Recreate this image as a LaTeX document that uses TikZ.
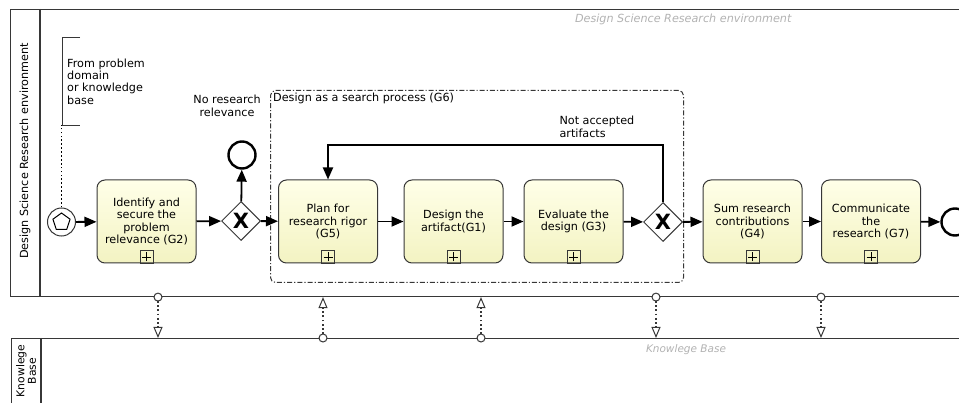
\documentclass[tikz,border=0pt]{standalone}
\usepackage{fontspec}
\setmainfont{DejaVu Sans}
\usetikzlibrary{shapes.geometric, arrows.meta, positioning}
\usepackage{xcolor}
\definecolor{taskhi}{RGB}{255, 255, 232}
\definecolor{tasklo}{RGB}{243, 243, 194}
\definecolor{lineg}{RGB}{55, 55, 55}
\definecolor{poolnote}{RGB}{178, 178, 178}

\begin{document}
\begin{tikzpicture}[
    x=1pt, y=-1pt,
    pool/.style={rectangle, draw=lineg, line width=1.1pt, anchor=north west, inner sep=0pt},
    task/.style={rectangle, draw=lineg, rounded corners=8pt, top color=taskhi, bottom color=tasklo, minimum width=99pt, minimum height=83pt, align=center, font=\fontsize{11.2}{12.4}\selectfont, line width=1pt, inner sep=2pt},
    gateway/.style={diamond, draw=lineg, fill=white, minimum width=39pt, minimum height=39pt, inner sep=0pt, line width=1pt, font=\fontsize{21}{21}\selectfont\bfseries},
    endevent/.style={circle, draw=black, line width=2.4pt, minimum size=27pt, inner sep=0pt},
    arrow/.style={-{Triangle[length=12pt, width=10pt]}, line width=1.8pt, color=black},
    msgdown/.style={{Circle[length=9pt, line width=1pt, fill=white]}-{Triangle[open, length=11pt, width=9pt, line width=1pt]}, dash pattern=on 1.8pt off 2.4pt, line width=1.7pt, color=lineg, shorten <=-4.5pt},
    msgup/.style={msgdown},
    txt/.style={font=\fontsize{11.2}{12.4}\selectfont, align=center, color=black},
    faint/.style={font=\fontsize{11.2}{12}\selectfont\itshape, color=poolnote}
]
\useasboundingbox (0,0) rectangle (959,403);

% Pools
\node[pool, minimum width=960pt, minimum height=287pt] (dsr) at (10,9) {};
\draw[lineg, line width=1.1pt] ([xshift=30pt]dsr.north west) -- ([xshift=30pt]dsr.south west);
\node[txt, rotate=90] (dsrlabel) at (25,151) {Design Science Research environment};
\node[faint, anchor=east] (dsrnote) at (795,19) {Design Science Research environment};

\node[pool, minimum width=960pt, minimum height=80pt] (kb) at (11,338) {};
\draw[lineg, line width=1.1pt] ([xshift=30pt]kb.north west) -- ([xshift=30pt]kb.south west);
\node[txt, rotate=90, font=\fontsize{10.8}{11.5}\selectfont] (kblabel) at (26,371) {Knowlege\\Base};
\node[faint, font=\fontsize{10.5}{12}\selectfont\itshape] (kbnote) at (686,350) {Knowlege Base};

% Search process group
\node[draw=lineg, line width=1pt, dash pattern=on 5pt off 2pt on 1.2pt off 2pt, rounded corners=5pt, minimum width=413pt, minimum height=192pt, anchor=north west, inner sep=0pt] (g6) at (270,90) {};
\node[txt, anchor=north west, inner sep=3pt] (g6label) at (g6.north west) {Design as a search process (G6)};

% Start event and annotation
\node[circle, draw=lineg, fill=white, line width=1pt, minimum size=28pt, inner sep=0pt] (start) at (61.5,222) {};
\node[regular polygon, regular polygon sides=5, draw=black, line width=1pt, minimum size=18pt, inner sep=0pt] (startmark) at (start) {};
\node[txt, align=left, anchor=west, minimum height=87pt, inner xsep=5pt] (note) at (62,81.5) {From problem\\domain\\or knowledge\\base};
\draw[lineg, line width=1pt] ([xshift=18pt]note.north west) -- (note.north west) -- (note.south west) -- ([xshift=18pt]note.south west);
\draw[black, line width=1.9pt, dash pattern=on 1.7pt off 2.2pt] (start) -- (start.north |- note.south);

% Tasks
\node[task] (g2) at (146.5,221.5) {Identify and\\secure the\\problem\\relevance (G2)};
\node[task] (g5) at (328,221.5) {Plan for\\research rigor\\(G5)};
\node[task] (g1) at (453.5,221.5) {Design the\\artifact(G1)};
\node[task] (g3) at (573.5,221.5) {Evaluate the\\design (G3)};
\node[task] (g4) at (752.5,221.5) {Sum research\\contributions\\(G4)};
\node[task] (g7) at (871,221.5) {Communicate\\the\\research (G7)};

% Subprocess markers
\foreach \t in {g2,g5,g1,g3,g4,g7} {
  \draw[lineg, line width=1pt] ([xshift=-6.5pt]\t.south) rectangle ([xshift=6.5pt, yshift=13pt]\t.south);
  \draw[black, line width=0.9pt] ([xshift=-4.5pt, yshift=6.5pt]\t.south) -- ([xshift=4.5pt, yshift=6.5pt]\t.south);
  \draw[black, line width=0.9pt] ([yshift=2pt]\t.south) -- ([yshift=11pt]\t.south);
}

% Gateways and end events
\node[gateway] (gw1) at (241,221) {X};
\node[gateway] (gw2) at (663,222) {X};
\node[endevent] (end1) at (242,155) {};
\node[endevent] (end2) at (955,222) {};

\node[txt] (norel) at (227,106) {No research\\relevance};
\node[txt, align=left, anchor=west] (notacc) at (556,127) {Not accepted\\artifacts};

% Sequence flows
\draw[arrow] (start) -- (g2);
\draw[arrow] (g2) -- (gw1);
\draw[arrow] (gw1) -- (end1);
\draw[arrow] (gw1) -- (g5);
\draw[arrow] (g5) -- (g1);
\draw[arrow] (g1) -- (g3);
\draw[arrow] (g3) -- (gw2);
\draw[arrow] (gw2) -- (g4);
\draw[arrow] (g4) -- (g7);
\draw[arrow] (g7) -- (end2);

% Loop back
\coordinate (loopup) at ([yshift=57pt]gw2.north);
\draw[arrow] (gw2.north) -- (loopup) -| (g5.north);

% Message flows
\foreach \x in {158,656,821}
  \draw[msgdown] (\x,0 |- dsr.south) -- (\x,0 |- kb.north);
\foreach \x in {323,481}
  \draw[msgup] (\x,0 |- kb.north) -- (\x,0 |- dsr.south);

\end{tikzpicture}
\end{document}
